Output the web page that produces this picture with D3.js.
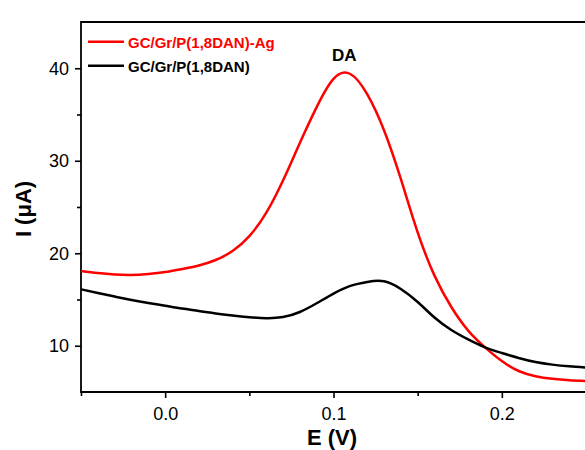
<!DOCTYPE html>
<html lang="en">
  <head>
    <meta charset="utf-8" />
    <title>DPV: DA peak</title>
    <script type="text/javascript" src="https://cdn.jsdelivr.net/npm/d3@7"></script>
    <style type="text/css">
      body {
        margin: 0;
        background: #fff;
      }
      text {
        font-family: "Liberation Sans", Arial, sans-serif;
      }
    </style>
  </head>
  <body>
    <script type="text/javascript">
      //Width and height
      var w = 585;
      var h = 450;

      //Potential (V)
      var potential = [
        -0.05, -0.04, -0.03, -0.02, -0.01, 0.0, 0.01, 0.02, 0.03, 0.04, 0.05,
        0.06, 0.07, 0.08, 0.09, 0.1, 0.11, 0.12, 0.13, 0.14, 0.15, 0.16,
        0.17, 0.18, 0.19, 0.2, 0.21, 0.22, 0.23, 0.24, 0.25,
      ];

      //Current (uA), GC/Gr/P(1,8DAN)-Ag
      var currentAg = [
        18.08, 17.86, 17.7, 17.65, 17.76, 17.97, 18.3, 18.68, 19.27, 20.24,
        21.86, 24.36, 27.86, 31.92, 35.8, 38.85, 39.38, 37.2, 33.3,
        28.03, 22.26, 17.58, 14.19, 11.64, 9.83, 8.35, 7.27, 6.71, 6.43, 6.27,
        6.19,
      ];

      //Current (uA), GC/Gr/P(1,8DAN)
      var currentBare = [
        16.1, 15.7, 15.32, 14.95, 14.62, 14.32, 14.02, 13.76, 13.49, 13.27,
        13.09, 12.98, 13.1, 13.65, 14.59, 15.64, 16.47, 16.9, 16.97,
        16.14, 14.73, 13.05, 11.7, 10.68, 9.83, 9.22, 8.68, 8.24, 7.96, 7.78,
        7.65,
      ];

      var seriesNames = ["GC/Gr/P(1,8DAN)-Ag", "GC/Gr/P(1,8DAN)"];
      var seriesColors = ["#ff0000", "#000000"];

      var xMajor = [0.0, 0.1, 0.2];
      var xMinor = [-0.05, 0.05, 0.15, 0.25];
      var yMajor = [10, 20, 30, 40];
      var yMinor = [15, 25, 35];

      var peakLabel = { text: "DA", e: 0.107, i: 39.5 };

      var xScale = d3.scaleLinear().domain([-0.05, 0.25]).range([81, 586]);
      var yScale = d3.scaleLinear().domain([5, 45]).range([392, 22]);

      //Create SVG element
      var svg = d3
        .select("body")
        .append("svg")
        .attr("width", w)
        .attr("height", h);

      svg
        .append("rect")
        .attr("width", w)
        .attr("height", h)
        .attr("fill", "#ffffff");

      //Axes
      var xAxis = d3
        .axisBottom(xScale)
        .tickValues(xMajor)
        .tickSize(6)
        .tickPadding(9)
        .tickFormat(d3.format(".1f"));
      var xAxisMinor = d3
        .axisBottom(xScale)
        .tickValues(xMinor)
        .tickSize(4)
        .tickFormat("");
      var yAxis = d3
        .axisLeft(yScale)
        .tickValues(yMajor)
        .tickSize(6)
        .tickPadding(6);
      var yAxisMinor = d3
        .axisLeft(yScale)
        .tickValues(yMinor)
        .tickSize(4)
        .tickFormat("");

      function styleAxis(g) {
        g.select(".domain").remove();
        g.selectAll(".tick line")
          .attr("stroke", "#000")
          .attr("stroke-width", 1.6);
        g.selectAll(".tick text")
          .attr("font-size", "18px")
          .attr("font-family", "Liberation Sans, Arial, sans-serif")
          .attr("fill", "#000");
      }

      svg
        .append("g")
        .attr("transform", "translate(0,392)")
        .call(xAxis)
        .call(styleAxis);
      svg
        .append("g")
        .attr("transform", "translate(0,392)")
        .call(xAxisMinor)
        .call(styleAxis);
      svg
        .append("g")
        .attr("transform", "translate(81,0)")
        .call(yAxis)
        .call(styleAxis);
      svg
        .append("g")
        .attr("transform", "translate(81,0)")
        .call(yAxisMinor)
        .call(styleAxis);

      //Frame (left, bottom, top)
      svg
        .append("path")
        .attr(
          "d",
          "M" + xScale(0.25) + "," + yScale(45) +
            "H" + xScale(-0.05) +
            "V" + yScale(5) +
            "H" + xScale(0.25)
        )
        .attr("fill", "none")
        .attr("stroke", "#000")
        .attr("stroke-width", 1.8);

      //Lines
      var line = d3
        .line()
        .x(function (d) {
          return xScale(d[0]);
        })
        .y(function (d) {
          return yScale(d[1]);
        })
        .curve(d3.curveNatural);

      var series = [d3.zip(potential, currentAg), d3.zip(potential, currentBare)];

      svg
        .selectAll("path.trace")
        .data(series)
        .enter()
        .append("path")
        .attr("class", "trace")
        .attr("d", line)
        .attr("fill", "none")
        .attr("stroke", function (d, i) {
          return seriesColors[i];
        })
        .attr("stroke-width", 2.5)
        .attr("stroke-linejoin", "round");

      //Peak label
      svg
        .append("text")
        .text(peakLabel.text)
        .attr("x", xScale(peakLabel.e) - 1)
        .attr("y", yScale(peakLabel.i) - 12)
        .attr("text-anchor", "middle")
        .attr("font-size", "17px")
        .attr("font-weight", "bold")
        .attr("fill", "#000");

      //Legend
      var legend = svg
        .selectAll("g.legend")
        .data(seriesNames)
        .enter()
        .append("g")
        .attr("class", "legend")
        .attr("transform", function (d, i) {
          return "translate(88," + (41.7 + i * 24) + ")";
        });
      legend
        .append("line")
        .attr("x1", 0)
        .attr("x2", 36)
        .attr("stroke", function (d, i) {
          return seriesColors[i];
        })
        .attr("stroke-width", 2.5);
      legend
        .append("text")
        .text(function (d) {
          return d;
        })
        .attr("x", 40)
        .attr("y", 6.3)
        .attr("font-size", "15px")
        .attr("font-weight", "bold")
        .attr("fill", function (d, i) {
          return seriesColors[i];
        });

      //Axis titles
      svg
        .append("text")
        .text("E (V)")
        .attr("x", 332)
        .attr("y", 445)
        .attr("text-anchor", "middle")
        .attr("font-size", "22px")
        .attr("font-weight", "bold");
      svg
        .append("text")
        .text("I (\u03bcA)")
        .attr("transform", "translate(31,209) rotate(-90)")
        .attr("text-anchor", "middle")
        .attr("font-size", "22px")
        .attr("font-weight", "bold");
    </script>
  </body>
</html>
